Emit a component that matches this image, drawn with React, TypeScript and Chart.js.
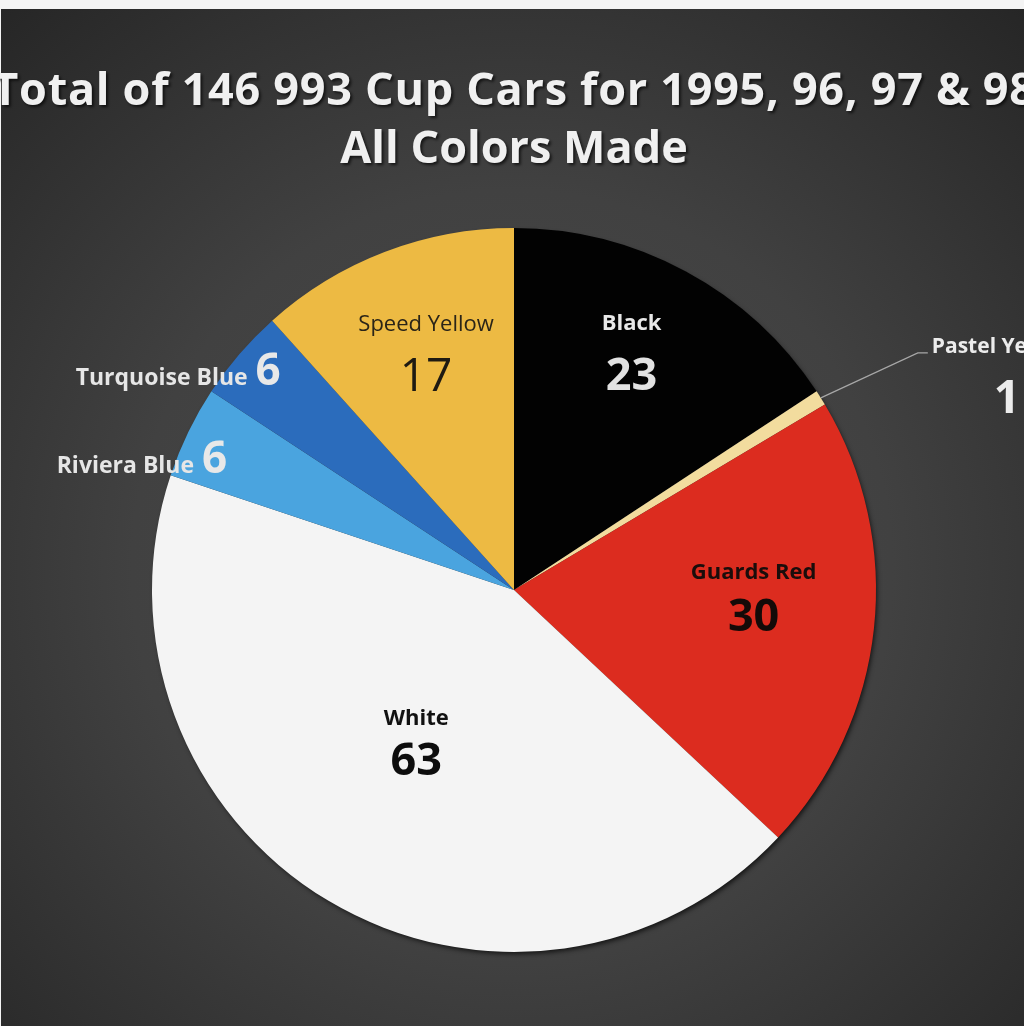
import React, { useEffect, useRef } from "react";
import { Chart, registerables } from "chart.js";

Chart.register(...registerables);

const categories = ["Black", "Pastel Yellow", "Guards Red", "White", "Riviera Blue", "Turquoise Blue", "Speed Yellow"];
const counts = [23, 1, 30, 63, 6, 6, 17];
const sliceColors = ["#020202", "#f2dc9e", "#dc2c1f", "#f4f4f4", "#4aa4df", "#2b6cbc", "#edba43"];
const titleLines = ["Total of 146 993 Cup Cars for 1995, 96, 97 & 98", "All Colors Made"];

const FONT = '"Open Sans", "Noto Sans", sans-serif';

type LabelStyle = {
  kind: "inside" | "side" | "callout";
  f: number;
  dx: number;
  nameY: number;
  valueY: number;
  nameColor: string;
  valueColor: string;
  nameFont: string;
  valueFont: string;
};

const labelStyles: LabelStyle[] = [
  { kind: "inside", f: 0.73, dx: -8, nameY: -27, valueY: 33, nameColor: "#e8e8e8", valueColor: "#e2e2e2", nameFont: `bold 22px ${FONT}`, valueFont: `bold 45px ${FONT}` },
  { kind: "callout", f: 1.0, dx: 186, nameY: -45, valueY: 15, nameColor: "#ececec", valueColor: "#ececec", nameFont: `bold 21px ${FONT}`, valueFont: `bold 46px ${FONT}` },
  { kind: "inside", f: 0.663, dx: 1, nameY: -37, valueY: 15, nameColor: "#1a0d0b", valueColor: "#140a08", nameFont: `bold 22px ${FONT}`, valueFont: `bold 45px ${FONT}` },
  { kind: "inside", f: 0.5, dx: -5, nameY: -20, valueY: 30, nameColor: "#111111", valueColor: "#0d0d0d", nameFont: `bold 22px ${FONT}`, valueFont: `bold 45px ${FONT}` },
  { kind: "side", f: 0.91, dx: -3, nameY: 27, valueY: 27, nameColor: "#e6e6e6", valueColor: "#e8e8e8", nameFont: `bold 23px ${FONT}`, valueFont: `bold 44px ${FONT}` },
  { kind: "side", f: 0.91, dx: 4, nameY: 10, valueY: 10, nameColor: "#e6e6e6", valueColor: "#e8e8e8", nameFont: `bold 23px ${FONT}`, valueFont: `bold 44px ${FONT}` },
  { kind: "inside", f: 0.71, dx: 4, nameY: -19, valueY: 41, nameColor: "#2a2418", valueColor: "#1e1a12", nameFont: `22px ${FONT}`, valueFont: `46px ${FONT}` },
];

const backgroundPlugin = {
  id: "bgPlugin",
  beforeDraw(chart: any) {
    const ctx = chart.ctx as CanvasRenderingContext2D;
    const w = chart.width;
    const h = chart.height;
    ctx.save();
    ctx.fillStyle = "#f4f4f4";
    ctx.fillRect(0, 0, w, h);
    const g = ctx.createRadialGradient(512, 570, 0, 512, 570, 760);
    g.addColorStop(0, "#4a4a4a");
    g.addColorStop(0.5, "#414141");
    g.addColorStop(1, "#262626");
    ctx.fillStyle = g;
    ctx.fillRect(1, 9, w - 1, h - 9);
    // title
    ctx.font = `bold 45px ${FONT}`;
    ctx.textAlign = "center";
    ctx.textBaseline = "alphabetic";
    ctx.fillStyle = "#f0f0f0";
    ctx.shadowColor = "rgba(0,0,0,0.65)";
    ctx.shadowOffsetX = 2;
    ctx.shadowOffsetY = 2;
    ctx.shadowBlur = 3;
    (ctx as any).letterSpacing = "0.7px";
    ctx.fillText(titleLines[0], 514, 105);
    (ctx as any).letterSpacing = "0px";
    ctx.fillText(titleLines[1], 514, 163);
    ctx.restore();
  },
  beforeDatasetsDraw(chart: any) {
    const meta = chart.getDatasetMeta(0);
    const arc = meta.data[0];
    if (!arc) return;
    const { x, y, outerRadius } = arc.getProps(["x", "y", "outerRadius"], true);
    const ctx = chart.ctx as CanvasRenderingContext2D;
    ctx.save();
    ctx.shadowColor = "rgba(0,0,0,0.7)";
    ctx.shadowBlur = 5;
    ctx.shadowOffsetX = 2;
    ctx.shadowOffsetY = 3;
    ctx.fillStyle = "#333";
    ctx.beginPath();
    ctx.arc(x, y, outerRadius - 1, 0, Math.PI * 2);
    ctx.fill();
    ctx.restore();
  },
};

const labelPlugin = {
  id: "sliceLabels",
  afterDatasetsDraw(chart: any) {
    const ctx = chart.ctx as CanvasRenderingContext2D;
    const meta = chart.getDatasetMeta(0);
    meta.data.forEach((el: any, i: number) => {
      const s = labelStyles[i];
      if (!s) return;
      const { x, y, startAngle, endAngle, outerRadius } = el.getProps(
        ["x", "y", "startAngle", "endAngle", "outerRadius"],
        true
      );
      const mid = (startAngle + endAngle) / 2;
      const ax = x + Math.cos(mid) * outerRadius * s.f;
      const ay = y + Math.sin(mid) * outerRadius * s.f;
      const name = categories[i];
      const value = String(counts[i]);
      ctx.save();
      ctx.textBaseline = "alphabetic";
      if (s.kind === "inside") {
        ctx.textAlign = "center";
        ctx.font = s.nameFont;
        ctx.fillStyle = s.nameColor;
        ctx.fillText(name, ax + s.dx, ay + s.nameY);
        ctx.font = s.valueFont;
        ctx.fillStyle = s.valueColor;
        ctx.fillText(value, ax + s.dx, ay + s.valueY);
      } else if (s.kind === "side") {
        ctx.font = s.valueFont;
        const vw = ctx.measureText(value).width;
        ctx.textAlign = "center";
        ctx.fillStyle = s.valueColor;
        ctx.fillText(value, ax + s.dx, ay + s.valueY);
        ctx.font = s.nameFont;
        ctx.textAlign = "right";
        ctx.fillStyle = s.nameColor;
        ctx.fillText(name, ax + s.dx - vw / 2 - 8, ay + s.nameY);
      } else {
        // callout with leader line
        ctx.strokeStyle = "#a8a8a8";
        ctx.lineWidth = 1.2;
        ctx.beginPath();
        ctx.moveTo(ax, ay);
        ctx.lineTo(ax + 97, ay - 45);
        ctx.lineTo(ax + 107, ay - 45);
        ctx.stroke();
        ctx.font = s.nameFont;
        ctx.textAlign = "left";
        ctx.fillStyle = s.nameColor;
        ctx.fillText(name, ax + 111, ay + s.nameY);
        ctx.font = s.valueFont;
        ctx.textAlign = "center";
        ctx.fillStyle = s.valueColor;
        ctx.fillText(value, ax + s.dx, ay + s.valueY);
      }
      ctx.restore();
    });
  },
};

export default function App() {
  const canvasRef = useRef<HTMLCanvasElement | null>(null);

  useEffect(() => {
    const canvas = canvasRef.current;
    if (!canvas) return;
    const chart = new Chart(canvas, {
      type: "pie",
      data: {
        labels: categories,
        datasets: [
          {
            data: counts,
            backgroundColor: sliceColors,
            borderWidth: 0,
          },
        ],
      },
      options: {
        responsive: false,
        animation: false,
        layout: { padding: { left: 152, right: 148, top: 228, bottom: 74 } },
        plugins: {
          legend: { display: false },
          title: { display: false },
          tooltip: { enabled: false },
        },
      },
      plugins: [backgroundPlugin, labelPlugin],
    });
    return () => chart.destroy();
  }, []);

  return (
    <div style={{ position: "fixed", left: 0, top: 0, width: 1024, height: 1026, overflow: "hidden" }}>
      <canvas ref={canvasRef} width={1024} height={1026} style={{ display: "block", width: 1024, height: 1026 }} />
    </div>
  );
}
